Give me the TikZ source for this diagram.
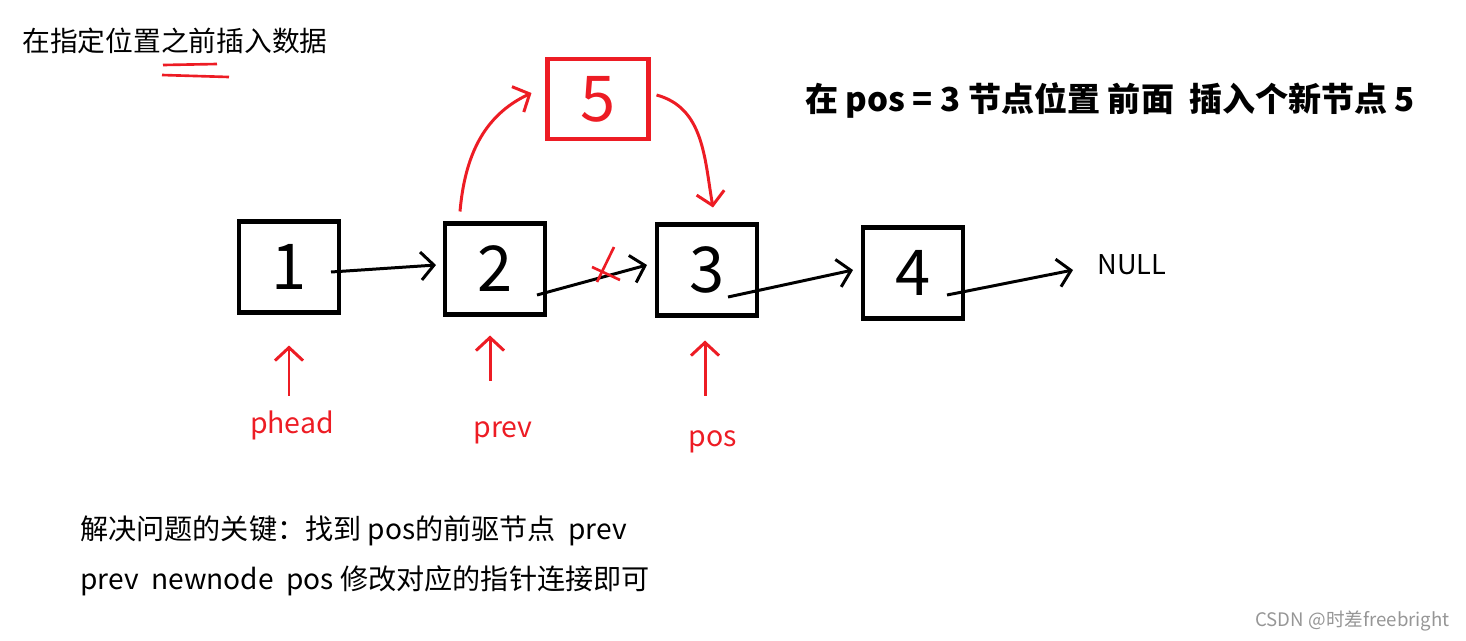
\documentclass[tikz,border=0pt]{standalone}
\usepackage{fontspec}
\setmainfont{Noto Sans CJK SC}
\definecolor{PaintRed}{RGB}{237,28,36}
\definecolor{MarkGray}{RGB}{150,150,150}
\usetikzlibrary{positioning, arrows.meta, calc}

\begin{document}
\begin{tikzpicture}[x=0.02cm, y=0.02cm,
  cell/.style={rectangle, draw=black, line width=2.3pt, minimum width=2cm, minimum height=1.82cm, inner sep=0pt, font=\fontsize{36}{36}\selectfont},
  newcell/.style={cell, draw=PaintRed, text=PaintRed, minimum width=2.02cm, minimum height=1.6cm},
  link/.style={-{Straight Barb[length=2.6mm, width=5.6mm]}, line width=1.7pt, black},
  rlink/.style={link, PaintRed},
  tag/.style={font=\fontsize{16.2}{16}\selectfont, text=PaintRed, inner sep=0pt},
  note/.style={font=\fontsize{16}{16}\selectfont, anchor=west, inner sep=0pt}
]
\useasboundingbox (0,0) rectangle (1466,-640);

% Headings
\node[font=\fontsize{15.8}{16}\selectfont, anchor=west, inner sep=0pt] (head) at (22,-41) {在指定位置之前插入数据};
\draw[PaintRed, line width=1.5pt] (163,-65) -- (217,-64);
\draw[PaintRed, line width=1.5pt] (162,-75) -- (229,-77);
\node[font=\bfseries\fontsize{18.8}{19}\selectfont, anchor=west, inner sep=0pt] (task) at (805,-100) {在 pos = 3 节点位置 前面~~插入个新节点 5};

% List nodes
\node[cell] (n1) at (289,-267) {1};
\node[cell] (n2) at (495,-269) {2};
\node[cell] (n3) at (707,-270) {3};
\node[cell] (n4) at (913,-273) {4};
\node[newcell] (n5) at (598,-99) {5};
\node[font=\fontsize{15.5}{15}\selectfont, anchor=west, inner sep=0pt] (null) at (1097,-265) {NULL};

\draw[link] ($(n1.east)+(-10,-5)$) -- ($(n2.west)+(-7,4)$);
\draw[link] ($(n2.east)+(-10,-26)$) -- ($(n3.west)+(-8,5)$);
\draw[link] ($(n3.east)+(-31,-27)$) -- ($(n4.west)+(-8,3)$);
\draw[link] ($(n4.east)+(-18,-22)$) -- ($(null.west)+(-24,-5)$);

% Cut old link
\coordinate (cut) at (606,-268);
\draw[PaintRed, line width=1.5pt] ($(cut)+(8,21)$) -- ($(cut)+(-9,-14)$);
\draw[PaintRed, line width=1.5pt] ($(cut)+(-14,1)$) -- ($(cut)+(14,-12)$);

% New links
\draw[rlink] ($(n2.north)+(-35,10)$) to[out=85, in=205] ($(n5.west)+(-14,6)$);
\draw[rlink] ($(n5.east)+(6,4)$) to[out=-15, in=100] ($(n3.north)+(6,15)$);

% Pointers
\node[tag] (phead) at (292,-425) {phead};
\node[tag] (prev) at (503,-433) {prev};
\node[tag] (pos) at (713,-442) {pos};
\draw[rlink] ($(n1.south)+(0,-81)$) -- ($(n1.south)+(0,-31)$);
\draw[rlink] ($(n2.south)+(-5,-64)$) -- ($(n2.south)+(-5,-19)$);
\draw[rlink] ($(n3.south)+(-2,-78)$) -- ($(n3.south)+(-2,-23)$);

% Notes
\node[note] (key) at (80,-531) {解决问题的关键：找到 pos的前驱节点~~prev};
\node[note] (fix) at (80,-581) {prev~~newnode~~pos 修改对应的指针连接即可};
\node[font=\fontsize{10.6}{10}\selectfont, text=MarkGray, anchor=east, inner sep=0pt] (mark) at (1450,-621) {CSDN @时差freebright};
\end{tikzpicture}
\end{document}
